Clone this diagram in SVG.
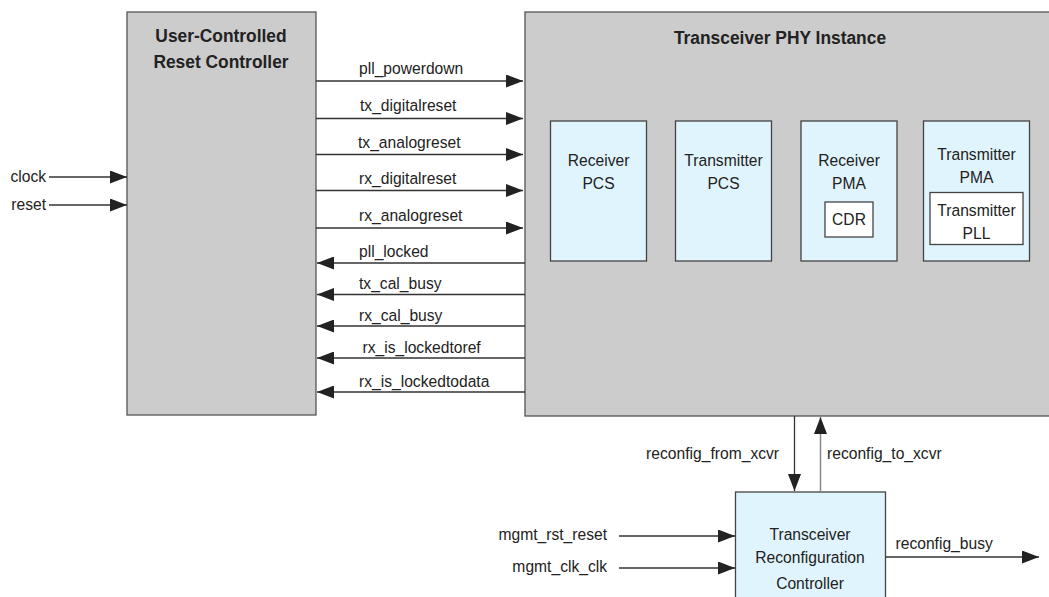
<svg xmlns="http://www.w3.org/2000/svg" width="1049" height="597" viewBox="0 0 1049 597">
<style>
.t{font-family:"Liberation Sans",Arial,sans-serif;font-size:17px;fill:#222;transform-box:fill-box;transform:scaleX(0.92);transform-origin:left center}
.b{font-family:"Liberation Sans",Arial,sans-serif;font-size:18.5px;font-weight:bold;fill:#222;transform-box:fill-box;transform:scaleX(0.94);transform-origin:center}
.m{text-anchor:middle;transform-origin:center}
.e{text-anchor:end;transform-origin:right center}
.big{fill:#cccccc;stroke:#555;stroke-width:1.3}
.in{fill:#e0f4fd;stroke:#444;stroke-width:1.3}
.wh{fill:#ffffff;stroke:#444;stroke-width:1.3}
.c{stroke:#333;stroke-width:1.3;fill:none;marker-end:url(#ah)}
.g{stroke:#888;stroke-width:1.5;fill:none;marker-end:url(#ah)}
</style>
<defs>
<marker id="ah" markerUnits="userSpaceOnUse" markerWidth="17" markerHeight="13" refX="17" refY="6.5" orient="auto">
<path d="M0,0 L17,6.5 L0,13 z" fill="#222"/>
</marker>
</defs>
<rect width="1049" height="597" fill="#ffffff"/>
<g id="reset-controller">
<rect class="big" x="127" y="12" width="189" height="403"/>
<text class="b m" x="221" y="42">User-Controlled</text>
<text class="b m" x="221" y="68">Reset Controller</text>
</g>
<g id="phy-instance">
<rect class="big" x="525" y="12" width="540" height="404"/>
<text class="b m" x="780" y="44">Transceiver PHY Instance</text>
</g>
<g id="rx-pcs">
<rect class="in" x="550.5" y="121" width="96" height="140"/>
<text class="t m" x="598.5" y="166">Receiver</text>
<text class="t m" x="598.5" y="189">PCS</text>
</g>
<g id="tx-pcs">
<rect class="in" x="675.5" y="121" width="96" height="140"/>
<text class="t m" x="723.5" y="166">Transmitter</text>
<text class="t m" x="723.5" y="189">PCS</text>
</g>
<g id="rx-pma">
<rect class="in" x="801" y="121" width="96" height="140"/>
<text class="t m" x="849" y="166">Receiver</text>
<text class="t m" x="849" y="189">PMA</text>
</g>
<g id="cdr">
<rect class="wh" x="825" y="202" width="48" height="35"/>
<text class="t m" x="849" y="225">CDR</text>
</g>
<g id="tx-pma">
<rect class="in" x="923.5" y="121" width="106" height="140"/>
<text class="t m" x="976.5" y="160">Transmitter</text>
<text class="t m" x="976.5" y="183">PMA</text>
</g>
<g id="tx-pll">
<rect class="wh" x="930" y="192.5" width="93" height="52"/>
<text class="t m" x="976.5" y="216">Transmitter</text>
<text class="t m" x="976.5" y="239">PLL</text>
</g>
<g id="reconfig-controller">
<rect class="in" x="735.5" y="492" width="150" height="120"/>
<text class="t m" x="810" y="540">Transceiver</text>
<text class="t m" x="810" y="563">Reconfiguration</text>
<text class="t m" x="810" y="589">Controller</text>
</g>
<g id="connectors">
<line class="c" x1="49" y1="177" x2="127" y2="177"/>
<line class="c" x1="49" y1="205" x2="127" y2="205"/>
<line class="c" x1="316" y1="81" x2="523" y2="81"/>
<line class="c" x1="316" y1="118.5" x2="523" y2="118.5"/>
<line class="c" x1="316" y1="154.5" x2="523" y2="154.5"/>
<line class="c" x1="316" y1="190.5" x2="523" y2="190.5"/>
<line class="c" x1="316" y1="228" x2="523" y2="228"/>
<line class="c" x1="525" y1="263" x2="317" y2="263"/>
<line class="c" x1="525" y1="294.5" x2="317" y2="294.5"/>
<line class="c" x1="525" y1="326" x2="317" y2="326"/>
<line class="c" x1="525" y1="358" x2="317" y2="358"/>
<line class="c" x1="525" y1="392" x2="317" y2="392"/>
<line class="c" x1="794.5" y1="416" x2="794.5" y2="491"/>
<line class="g" x1="820.5" y1="492" x2="820.5" y2="417"/>
<line class="c" x1="619" y1="536" x2="735" y2="536"/>
<line class="c" x1="619" y1="568" x2="735" y2="568"/>
<line class="c" x1="885.5" y1="557" x2="1039" y2="557"/>
<text class="t e" x="46" y="182">clock</text>
<text class="t e" x="46" y="210">reset</text>
<text class="t" x="359" y="74">pll_powerdown</text>
<text class="t" x="360" y="111.5">tx_digitalreset</text>
<text class="t" x="358" y="148">tx_analogreset</text>
<text class="t" x="359" y="184">rx_digitalreset</text>
<text class="t" x="359" y="221">rx_analogreset</text>
<text class="t" x="359" y="257">pll_locked</text>
<text class="t" x="359" y="289.5">tx_cal_busy</text>
<text class="t" x="359" y="321">rx_cal_busy</text>
<text class="t" x="362.5" y="353">rx_is_lockedtoref</text>
<text class="t" x="359" y="387">rx_is_lockedtodata</text>
<text class="t e" x="779" y="459">reconfig_from_xcvr</text>
<text class="t" x="827" y="459">reconfig_to_xcvr</text>
<text class="t e" x="607" y="540">mgmt_rst_reset</text>
<text class="t e" x="607" y="572">mgmt_clk_clk</text>
<text class="t" x="895.5" y="549">reconfig_busy</text>
</g>
</svg>
